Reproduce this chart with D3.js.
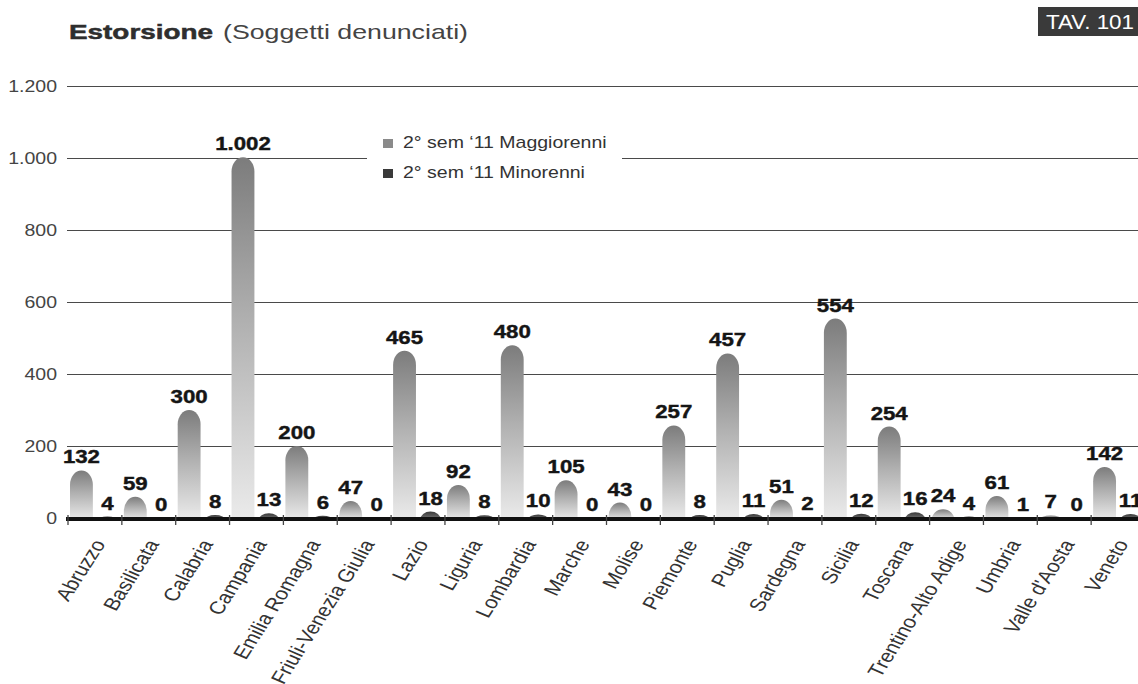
<!DOCTYPE html>
<html>
<head>
<meta charset="utf-8">
<script src="https://cdn.jsdelivr.net/npm/d3@7"></script>
<style>
  html, body { margin: 0; padding: 0; background: #ffffff; }
  svg { display: block; font-family: "Liberation Sans", Arial, sans-serif; }
</style>
</head>
<body>
<svg id="chart" width="1138" height="684"></svg>
<script>
// ---- data ----
const categories = ["Abruzzo", "Basilicata", "Calabria", "Campania", "Emilia Romagna",
  "Friuli-Venezia Giulia", "Lazio", "Liguria", "Lombardia", "Marche", "Molise",
  "Piemonte", "Puglia", "Sardegna", "Sicilia", "Toscana", "Trentino-Alto Adige",
  "Umbria", "Valle d'Aosta", "Veneto"];
const maggiorenni = [132, 59, 300, 1002, 200, 47, 465, 92, 480, 105, 43, 257, 457, 51, 554, 254, 24, 61, 7, 142];
const minorenni   = [4, 0, 8, 13, 6, 0, 18, 8, 10, 0, 0, 8, 11, 2, 12, 16, 4, 1, 0, 11];
const seriesNames = ["2° sem ‘11 Maggiorenni", "2° sem ‘11 Minorenni"];
const yTicks = [0, 200, 400, 600, 800, 1000, 1200];
const titleBold = "Estorsione";
const titleRest = "(Soggetti denunciati)";
const tavLabel = "TAV. 101";

// ---- setup ----
const svg = d3.select("#chart");
const W = 1138;
const itLocale = d3.formatLocale({decimal: ",", thousands: ".", grouping: [3], currency: ["€", ""]});
const fmt = itLocale.format(",d");
const SX = 1.22; // horizontal text stretch of the original

const y = d3.scaleLinear().domain([0, 1200]).range([518, 86]);
const x = d3.scaleBand().domain(categories).range([68, 68 + 20 * 53.85]).padding(0);
const xSub = d3.scaleBand().domain(["maj", "min"]).range([2, x.bandwidth() - 3]).paddingInner(0.12);

// gradients
const defs = svg.append("defs");
function grad(id, stops) {
  const g = defs.append("linearGradient").attr("id", id)
    .attr("x1", 0).attr("y1", 0).attr("x2", 0).attr("y2", 1);
  stops.forEach(s => g.append("stop").attr("offset", s[0]).attr("stop-color", s[1]));
}
grad("gMaj", [[0, "#7c7c7c"], [0.45, "#b0b0b0"], [1, "#ebebeb"]]);
grad("gMin", [[0, "#3a3a3a"], [1, "#7a7a7a"]]);

// ---- title ----
svg.append("text").attr("x", 69).attr("y", 39)
  .attr("font-size", 21).attr("font-weight", "bold").attr("fill", "#2e2e2e")
  .attr("stroke", "#2e2e2e").attr("stroke-width", 0.5)
  .attr("textLength", 144).attr("lengthAdjust", "spacingAndGlyphs")
  .text(titleBold);
svg.append("text").attr("x", 223).attr("y", 39)
  .attr("font-size", 21).attr("fill", "#444")
  .attr("textLength", 245).attr("lengthAdjust", "spacingAndGlyphs")
  .text(titleRest);

// TAV box
svg.append("rect").attr("x", 1038).attr("y", 7).attr("width", W - 1038).attr("height", 29).attr("fill", "#3a3a3a");
svg.append("text").attr("x", 1046).attr("y", 29).attr("font-size", 20).attr("fill", "#fff")
  .attr("textLength", 88).attr("lengthAdjust", "spacingAndGlyphs").text(tavLabel);

// ---- grid + y labels ----
const grid = svg.append("g");
yTicks.filter(t => t > 0).forEach(t => {
  grid.append("line").attr("x1", 67).attr("x2", W).attr("y1", y(t) + 0.5).attr("y2", y(t) + 0.5)
    .attr("stroke", "#4a4a4a").attr("stroke-width", 1.2);
});
yTicks.forEach(t => {
  svg.append("g").attr("transform", `translate(57,${y(t)}) scale(${SX},1)`)
    .append("text").attr("text-anchor", "end").attr("dy", "0.36em")
    .attr("font-size", 16).attr("fill", "#444").text(fmt(t));
});

// ---- legend (white box interrupting the grid) ----
const lg = svg.append("g");
lg.append("rect").attr("x", 367).attr("y", 128).attr("width", 255).attr("height", 62).attr("fill", "#fff");
const legColors = ["#8a8a8a", "#3a3a3a"];
seriesNames.forEach((n, i) => {
  const ly = 148 + i * 30;
  lg.append("rect").attr("x", 383).attr("y", ly - 9).attr("width", 10).attr("height", 9).attr("fill", legColors[i]);
  lg.append("g").attr("transform", `translate(403,${ly}) scale(1.22,1)`)
    .append("text").attr("font-size", 16).attr("fill", "#333").text(n);
});

// ---- bars ----
function barPath(x0, w, v) {
  const yb = y(0) + 2;
  const yt = y(v);
  const h = yb - yt;
  const r = w / 2;
  const ry = Math.min(r * 1.25, h);
  return `M${x0},${yb} L${x0},${yt + ry} A${r},${ry} 0 0 1 ${x0 + w},${yt + ry} L${x0 + w},${yb} Z`;
}
const bars = svg.append("g");
categories.forEach((c, i) => {
  const bx = x(c);
  const vMaj = maggiorenni[i], vMin = minorenni[i];
  if (vMaj > 0) bars.append("path").attr("d", barPath(bx + xSub("maj"), xSub.bandwidth(), vMaj)).attr("fill", "url(#gMaj)");
  if (vMin > 0) bars.append("path").attr("d", barPath(bx + xSub("min") + 1, xSub.bandwidth() - 2, vMin)).attr("fill", "url(#gMin)");
});

// ---- baseline + ticks ----
svg.append("line").attr("x1", 66).attr("x2", W).attr("y1", y(0) + 1).attr("y2", y(0) + 1)
  .attr("stroke", "#111").attr("stroke-width", 4);
categories.forEach((c, i) => {
  const tx = x(c);
  svg.append("line").attr("x1", tx).attr("x2", tx).attr("y1", y(0) - 3).attr("y2", y(0) + 7)
    .attr("stroke", "#444").attr("stroke-width", 1.3);
});

// ---- value labels ----
const lbl = svg.append("g");
categories.forEach((c, i) => {
  const bx = x(c);
  [["maj", maggiorenni[i]], ["min", minorenni[i]]].forEach(([k, v]) => {
    const cx = bx + xSub(k) + xSub.bandwidth() / 2;
    lbl.append("g").attr("transform", `translate(${cx},${y(v) - 7}) scale(1.27,1)`)
      .append("text").attr("text-anchor", "middle").attr("font-size", 17.5).attr("font-weight", "bold")
      .attr("fill", "#151515").attr("stroke", "#151515").attr("stroke-width", 0.4).text(fmt(v));
  });
});

// ---- category labels ----
categories.forEach(c => {
  const cx = x(c) + x.bandwidth() / 2 + 11;
  svg.append("g").attr("transform", `translate(${cx},544) scale(${SX},1) rotate(-62)`)
    .append("text").attr("text-anchor", "end").attr("font-size", 18).attr("fill", "#333").text(c);
});
</script>
</body>
</html>
